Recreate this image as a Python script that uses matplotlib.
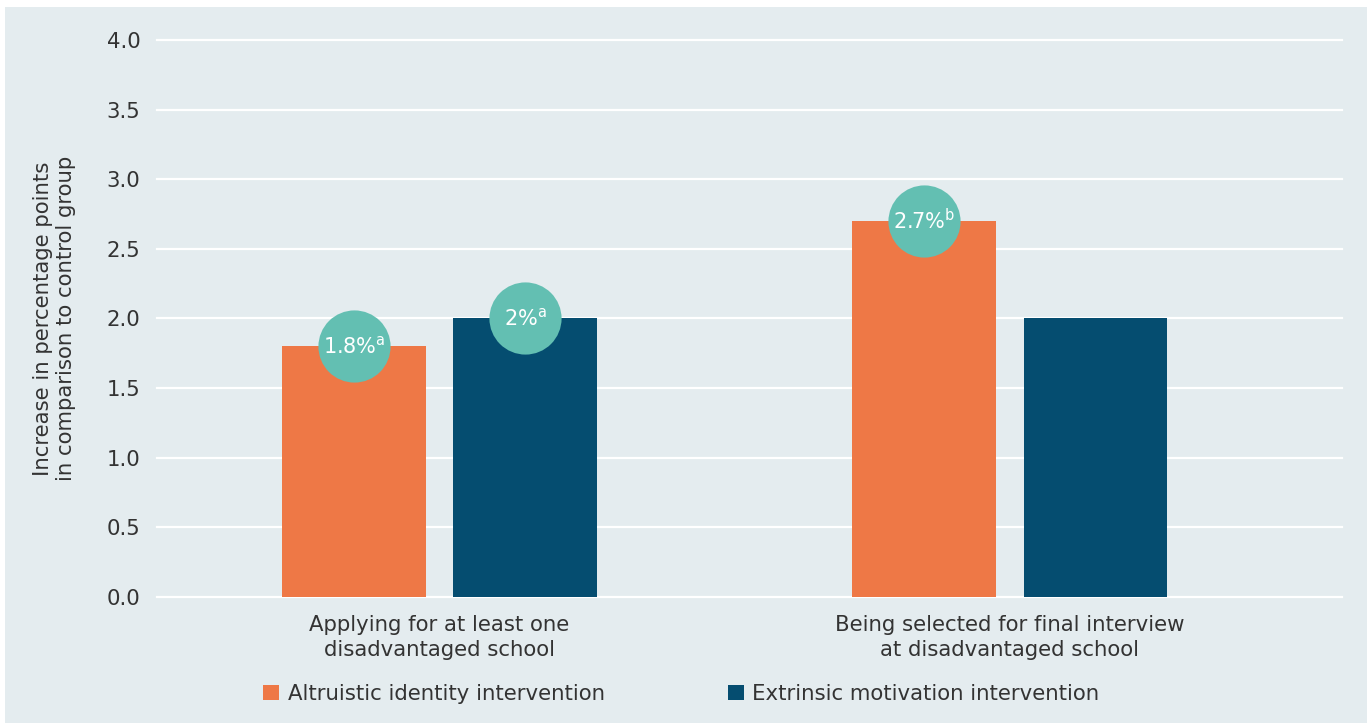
import matplotlib.pyplot as plt
import numpy as np
from matplotlib.patches import Patch, Rectangle

plt.rcParams['font.family'] = ['DejaVu Sans']
plt.rcParams['mathtext.fontset'] = 'custom'
plt.rcParams['mathtext.rm'] = 'DejaVu Sans'

categories = ['Applying for at least one\ndisadvantaged school',
              'Being selected for final interview\nat disadvantaged school']
series = ['Altruistic identity intervention', 'Extrinsic motivation intervention']
altruistic = [1.8, 2.7]
extrinsic = [2.0, 2.0]
# value bubbles: (category index, series index, label)
bubbles = [(0, 0, '1.8%$^{\\mathrm{a}}$'),
           (0, 1, '2%$^{\\mathrm{a}}$'),
           (1, 0, '2.7%$^{\\mathrm{b}}$')]
yticks = [0.0, 0.5, 1.0, 1.5, 2.0, 2.5, 3.0, 3.5, 4.0]

BG = '#e4ecef'
ORANGE = '#ee7846'
NAVY = '#054d70'
TEAL = '#63bfb2'
TEXT = '#333333'
FS = 15.3

fig = plt.figure(figsize=(13.67, 7.23), dpi=100)
fig.patch.set_facecolor('white')
fig.add_artist(Rectangle((5 / 1367, 0), 1, 1 - 7 / 723, transform=fig.transFigure,
                         facecolor=BG, edgecolor='none', zorder=-10))

ax = fig.add_axes([157 / 1367, 1 - 597 / 723, 1185 / 1367, 557 / 723])
ax.set_facecolor('none')

x = np.arange(len(categories))
w = 0.252
off = 0.15
values = [altruistic, extrinsic]
colors = [ORANGE, NAVY]
ax.bar(x - off, altruistic, w, color=ORANGE, zorder=3)
ax.bar(x + off, extrinsic, w, color=NAVY, zorder=3)

for ci, si, label in bubbles:
    bx = x[ci] + (-off if si == 0 else off)
    by = values[si][ci]
    ax.scatter([bx], [by], s=2700, color=TEAL, zorder=5, clip_on=False, linewidths=0)
    ax.text(bx, by, label, ha='center', va='center', color='white',
            fontsize=15, zorder=6)

ax.set_xlim(-0.495, 1.582)
ax.set_ylim(0, 4)
ax.set_yticks(yticks)
ax.set_yticklabels([f'{t:.1f}' for t in yticks])
ax.yaxis.grid(True, color='white', linewidth=1.6, zorder=0)
for gl in ax.get_ygridlines():
    gl.set_clip_on(False)
ax.set_axisbelow(True)
ax.set_xticks(x)
ax.set_xticklabels(categories, linespacing=1.3)
ax.tick_params(axis='both', length=0, colors=TEXT, labelsize=FS)
ax.tick_params(axis='y', pad=12)
ax.tick_params(axis='x', pad=13)
for s in ax.spines.values():
    s.set_visible(False)

ax.set_ylabel('Increase in percentage points\nin comparison to control group',
              fontsize=FS, color=TEXT, linespacing=1.2, labelpad=22)

handles = [Patch(facecolor=c, edgecolor='none') for c in colors]
fig.legend(handles, series, loc='center left', bbox_to_anchor=(244 / 1367, 1 - 694 / 723),
           ncol=2, frameon=False, fontsize=FS, handlelength=0.75, handleheight=0.75,
           handletextpad=0.4, columnspacing=5.8, labelcolor=TEXT)

fig.savefig('out.png', dpi=100, facecolor=fig.get_facecolor())
